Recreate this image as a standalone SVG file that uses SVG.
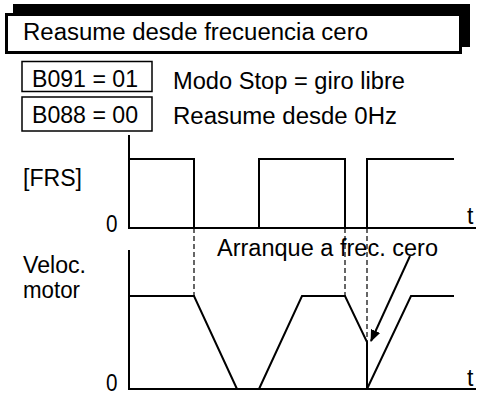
<svg xmlns="http://www.w3.org/2000/svg" width="482" height="403" viewBox="0 0 482 403">
<style>
text{font-family:"Liberation Sans",Arial,sans-serif;font-size:23px;fill:#000}
.ln{fill:none;stroke:#000;stroke-width:2}
.dash{fill:none;stroke:#000;stroke-width:1.2;stroke-dasharray:5,3}
.box{fill:#fff;stroke:#000;stroke-width:1.5}
</style>
<defs>
<marker id="ah" markerWidth="12" markerHeight="12" refX="11" refY="6" orient="auto" markerUnits="userSpaceOnUse" viewBox="0 0 12 12">
<path d="M0,1 L12,6 L0,11 z" fill="#000"/>
</marker>
</defs>
<rect width="482" height="403" fill="#fff"/>
<g id="title">
<rect x="13" y="4" width="457" height="43" fill="#000"/>
<rect x="6.5" y="14.5" width="454" height="38" fill="#fff" stroke="#000" stroke-width="3"/>
<text x="23" y="40" font-size="22" textLength="345" lengthAdjust="spacingAndGlyphs">Reasume desde frecuencia cero</text>
</g>
<g id="b091">
<rect class="box" x="22" y="61.5" width="130" height="30"/>
<text x="32" y="87" textLength="106" lengthAdjust="spacingAndGlyphs">B091 = 01</text>
</g>
<text x="173" y="89" textLength="232" lengthAdjust="spacingAndGlyphs">Modo Stop = giro libre</text>
<g id="b088">
<rect class="box" x="22" y="97" width="130" height="34"/>
<text x="32" y="123" textLength="106" lengthAdjust="spacingAndGlyphs">B088 = 00</text>
</g>
<text x="173" y="124" textLength="224" lengthAdjust="spacingAndGlyphs">Reasume desde 0Hz</text>
<g id="frs">
<text x="23" y="186" textLength="59" lengthAdjust="spacingAndGlyphs">[FRS]</text>
<text x="106" y="232" textLength="11.5" lengthAdjust="spacingAndGlyphs">0</text>
<text x="467" y="224">t</text>
<path class="ln" d="M129,135 V228 H476"/>
<path class="ln" d="M129,159 H194 V228 M259,228 V159 H345 V228 M367,228 V159 H454"/>
</g>
<g id="speed">
<text x="23" y="273" font-size="21" textLength="63" lengthAdjust="spacingAndGlyphs">Veloc.</text>
<text x="23" y="298" font-size="21" textLength="57" lengthAdjust="spacingAndGlyphs">motor</text>
<text x="106" y="391" textLength="11.5" lengthAdjust="spacingAndGlyphs">0</text>
<text x="467" y="386">t</text>
<path class="ln" d="M129,250 V389 H476"/>
<path class="ln" d="M129,296 H194 L237,389 M259,389 L302,296 H345 L367,342 V389 L411,296 H454"/>
</g>
<g id="connectors">
<path class="dash" d="M194,228 V296 M345,228 V296 M367,228 V342"/>
<path d="M410,256 L371,341" fill="none" stroke="#000" stroke-width="2" marker-end="url(#ah)"/>
</g>
<text x="217" y="256" textLength="221" lengthAdjust="spacingAndGlyphs">Arranque a frec. cero</text>
</svg>
